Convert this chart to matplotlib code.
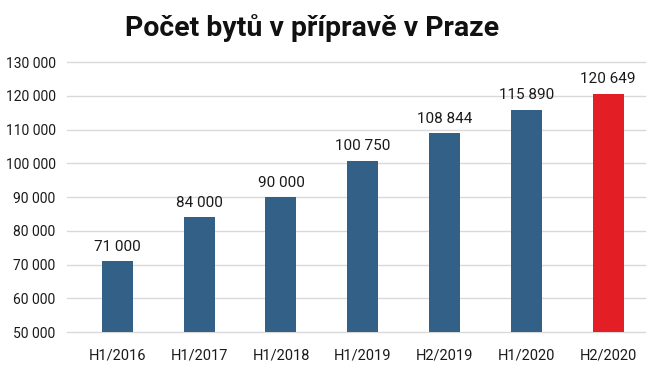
import matplotlib.pyplot as plt
from matplotlib.ticker import FuncFormatter

# data
categories = ["H1/2016", "H1/2017", "H1/2018", "H1/2019", "H2/2019", "H1/2020", "H2/2020"]
values = [71000, 84000, 90000, 100750, 108844, 115890, 120649]
bar_colors = ["#336087"] * 6 + ["#e31e24"]

plt.rcParams['font.family'] = ['Roboto', 'DejaVu Sans']

def fmt(v):
    return f"{int(v):,}".replace(",", " ")

fig = plt.figure(figsize=(6.54, 3.70), dpi=100)
ax = fig.add_axes([0.102, 0.1027, 0.884, 0.7297])

x = range(len(categories))
ax.bar(x, values, width=0.38, color=bar_colors, zorder=3)

for xi, v in zip(x, values):
    ax.text(xi, v + 2200, fmt(v), ha="center", va="bottom", fontsize=11, color="#1a1a1a")

ax.set_ylim(50000, 130000)
ax.set_xlim(-0.62, 6.45)
ax.set_yticks(range(50000, 130001, 10000))
ax.yaxis.set_major_formatter(FuncFormatter(lambda v, p: fmt(v)))
ax.set_xticks(list(x))
ax.set_xticklabels(categories)
ax.grid(axis="y", color="#d9d9d9", linewidth=1, zorder=0)
for gl in ax.get_ygridlines():
    gl.set_clip_on(False)

for s in ax.spines.values():
    s.set_visible(False)
ax.tick_params(axis="both", length=0, labelsize=10.5, colors="#1a1a1a")
ax.tick_params(axis="y", labelsize=10, pad=8)
ax.tick_params(axis="x", pad=12)

fig.text(0.477, 0.925, "Počet bytů v přípravě v Praze", ha="center", va="center",
         fontsize=20.5, fontweight="bold", color="#111111")

fig.savefig("out.png", dpi=100)
